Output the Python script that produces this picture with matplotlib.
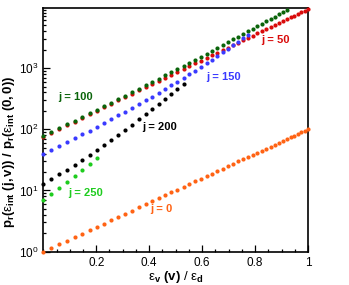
import numpy as np
import matplotlib
matplotlib.use('Agg')
import matplotlib.pyplot as plt
from matplotlib.ticker import LogLocator, MultipleLocator, NullFormatter

plt.rcParams['font.family'] = ['Liberation Sans', 'DejaVu Sans']
plt.rcParams['mathtext.fontset'] = 'custom'
plt.rcParams['mathtext.rm'] = 'Liberation Sans'
plt.rcParams['mathtext.bf'] = 'Liberation Sans:bold'
plt.rcParams['mathtext.it'] = 'Liberation Sans:italic'

# vibrational energy eps_v(v)/eps_d of each level v = 0..47
eps_v = [0.000, 0.030, 0.060, 0.089, 0.118, 0.147, 0.175, 0.203, 0.230, 0.257,
         0.284, 0.310, 0.336, 0.362, 0.387, 0.412, 0.436, 0.460, 0.484, 0.507,
         0.530, 0.552, 0.574, 0.596, 0.617, 0.638, 0.658, 0.679, 0.698, 0.718,
         0.737, 0.755, 0.773, 0.791, 0.809, 0.826, 0.842, 0.859, 0.874, 0.890,
         0.905, 0.920, 0.934, 0.948, 0.962, 0.975, 0.988, 1.000]

# population ratio p_r(eps_int(j,v)) / p_r(eps_int(0,0)) per rotational level j
ratio_j0 = [1.00, 1.15, 1.32, 1.51, 1.72, 1.97, 2.24, 2.55, 2.88, 3.27,
            3.70, 4.17, 4.70, 5.30, 5.94, 6.67, 7.45, 8.32, 9.29, 10.3,
            11.5, 12.7, 14.1, 15.6, 17.1, 18.9, 20.7, 22.8, 24.9, 27.3,
            29.8, 32.4, 35.2, 38.2, 41.5, 44.9, 48.3, 52.2, 56.0, 60.3,
            64.6, 69.2, 73.8, 78.7, 83.9, 89.1, 94.6, 100.]
ratio_j50 = [75.9, 87.7, 101, 116, 134, 154, 176, 201, 229, 261,
             296, 336, 381, 432, 486, 548, 615, 692, 776, 867,
             968, 1070, 1190, 1330, 1470, 1630, 1790, 1980, 2170, 2390,
             2610, 2850, 3100, 3390, 3700, 4010, 4330, 4700, 5050, 5460,
             5860, 6300, 6730, 7210, 7710, 8200, 8730, 9250]
ratio_j100 = [78.5, 90.6, 104, 120, 138, 159, 182, 208, 238, 272,
              311, 355, 404, 460, 523, 594, 671, 759, 859, 968,
              1090, 1220, 1370, 1540, 1720, 1920, 2140, 2390, 2650, 2950,
              3270, 3610, 3970, 4390, 4830, 5310, 5790, 6370, 6900, 7550,
              8200, 8910]
ratio_j150 = [38.9, 45.3, 52.7, 61.1, 70.9, 82.2, 95.1, 110, 127, 146,
              169, 194, 224, 259, 297, 343, 394, 453, 521, 598,
              689, 789, 906, 1040, 1190, 1370, 1560, 1800, 2050, 2360,
              2700, 3070, 3510]
ratio_j200 = [12.8, 15.2, 18.3, 21.9, 26.4, 31.8, 38.3, 46.2, 55.6, 67.1,
              81.5, 98.4, 119, 145, 175, 212, 256, 310, 376, 453,
              547]
ratio_j250 = [7.00, 8.71, 11.0, 13.8, 17.4, 21.7, 27.0, 33.3]

series = [  # (ratio, colour, label, label x, label y)
    (ratio_j0,   '#ff6314', 'j = 0',   0.403, 5.0),
    (ratio_j50,  '#d90b0b', 'j = 50',  0.825, 2880),
    (ratio_j100, '#0a640a', 'j = 100', 0.056, 341),
    (ratio_j150, '#3a3aff', 'j = 150', 0.617, 724),
    (ratio_j200, '#000000', 'j = 200', 0.372, 108),
    (ratio_j250, '#1ecc1e', 'j = 250', 0.094, 9.2),
]

fig = plt.figure(figsize=(3.49, 2.85), dpi=100)
ax = fig.add_axes([0.124, 0.117, 0.7585, 0.854])

for ratio, col, lab, lx, ly in series:
    x = np.array(eps_v[:len(ratio)])
    ax.plot(x, ratio, 'o', ms=3.0, mew=0, color=col, clip_on=False, zorder=3)
    ax.text(lx, ly, lab, color=col, fontsize=8, fontweight='bold', ha='left', va='center')

ax.set_yscale('log')
ax.set_xlim(0, 1)
ax.set_ylim(1, 9500)
ax.set_xticks([0.2, 0.4, 0.6, 0.8, 1.0])
ax.set_xticklabels(['0.2', '0.4', '0.6', '0.8', '1'])
ax.xaxis.set_minor_locator(MultipleLocator(0.05))
ax.yaxis.set_major_locator(LogLocator(base=10, numticks=10))
ax.yaxis.set_minor_locator(LogLocator(base=10, subs=np.arange(2, 10), numticks=20))
ax.yaxis.set_minor_formatter(NullFormatter())
ax.tick_params(which='both', direction='in', top=False, right=False, labelsize=8.5, width=0.9)
ax.tick_params(which='major', length=5)
ax.tick_params(which='minor', length=2.5)
for sp in ax.spines.values():
    sp.set_linewidth(1.2)

ax.set_xlabel(r'ε$_\mathbf{v}$ $\mathbf{(v)}$ / ε$_\mathbf{d}$', fontsize=9.5, labelpad=0)
ax.set_ylabel(r'$\mathbf{p_r(}$ε$_\mathbf{int}$ $\mathbf{(j,v))\ /\ p_r(}$ε$_\mathbf{int}$ $\mathbf{(0,0))}$',
              fontsize=9.5)
ax.yaxis.set_label_coords(-0.098, 0.41)

fig.savefig('out.png', dpi=100)
